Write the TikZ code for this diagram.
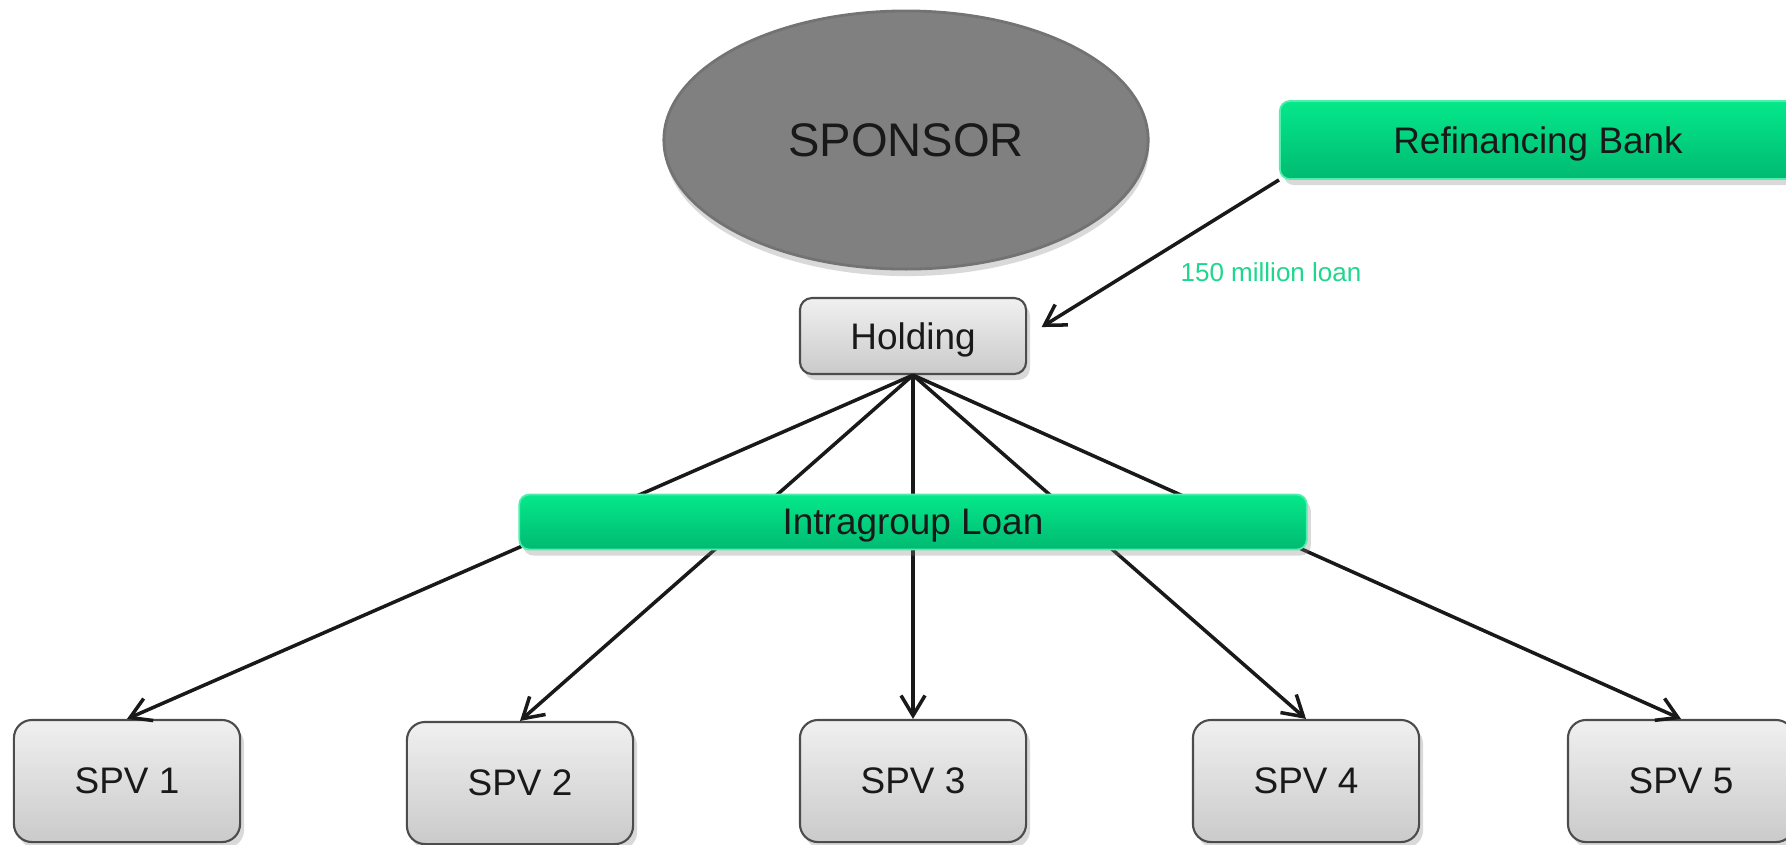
\documentclass[tikz,border=0pt]{standalone}
\usepackage{fontspec}
\setmainfont{Liberation Sans}
\usepackage{tikz}
\usetikzlibrary{positioning,shapes.geometric,shadows,arrows.meta}
\usepackage{xcolor}
\definecolor{loangreen}{RGB}{5,232,138}
\definecolor{loandark}{RGB}{0,186,114}
\definecolor{labelgreen}{RGB}{30,215,140}
\definecolor{boxtop}{RGB}{240,240,240}
\definecolor{boxbottom}{RGB}{202,202,202}

\begin{document}
\begin{tikzpicture}[x=0.01cm, y=-0.01cm,
	every node/.style={text=black!90, font=\fontsize{10.5}{12}\selectfont},
	entity/.style={draw=black!70, line width=0.6pt, rounded corners=0.18cm, top color=boxtop, bottom color=boxbottom, minimum width=2.26cm, text depth=0pt, drop shadow={shadow xshift=0.4mm, shadow yshift=-0.6mm, opacity=0.3}},
	loanbar/.style={draw=loangreen!70!white, line width=0.5pt, rounded corners=0.1cm, top color=loangreen, bottom color=loandark, text depth=0pt, drop shadow={shadow xshift=0.4mm, shadow yshift=-0.6mm, opacity=0.3}},
	flow/.style={line width=1pt, black!90, -{Straight Barb[length=2mm, width=2.4mm]}}]
	\useasboundingbox (0, 0) rectangle (1786, 844);
	\node[ellipse, draw=black!55, line width=0.8pt, fill=black!50, minimum width=4.84cm, minimum height=2.58cm, inner sep=0pt, drop shadow={shadow xshift=0.1mm, shadow yshift=-0.7mm, opacity=0.3}, font=\fontsize{13.4}{15}\selectfont] (sponsor) at (906, 140) {SPONSOR};
	\node[loanbar, minimum width=5.16cm, minimum height=0.78cm] (bank) at (1538, 140) {Refinancing Bank};
	\node[entity, minimum height=0.76cm, rounded corners=0.12cm] (hold) at (913, 336) {Holding};
	\node[entity, minimum height=1.22cm] (spv1) at (127, 781) {SPV 1};
	\node[entity, minimum height=1.22cm] (spv2) at (520, 783) {SPV 2};
	\node[entity, minimum height=1.22cm] (spv3) at (913, 781) {SPV 3};
	\node[entity, minimum height=1.22cm] (spv4) at (1306, 781) {SPV 4};
	\node[entity, minimum height=1.22cm] (spv5) at (1681, 781) {SPV 5};
	% refinancing loan
	\draw[flow, shorten >=1.7mm] (bank.south west) -- (hold.east);
	\node[text=labelgreen, font=\fontsize{7.4}{9}\selectfont] (amount) at (1271, 272) {150 million loan};
	% intragroup loans
	\draw[flow] (hold.south) -- (spv1.north);
	\draw[flow] (hold.south) -- (spv2.north);
	\draw[flow] (hold.south) -- (spv3.north);
	\draw[flow] (hold.south) -- (spv4.north);
	\draw[flow] (hold.south) -- (spv5.north);
	\node[loanbar, minimum width=7.87cm, minimum height=0.55cm] (intra) at (913, 522) {Intragroup Loan};
\end{tikzpicture}
\end{document}
